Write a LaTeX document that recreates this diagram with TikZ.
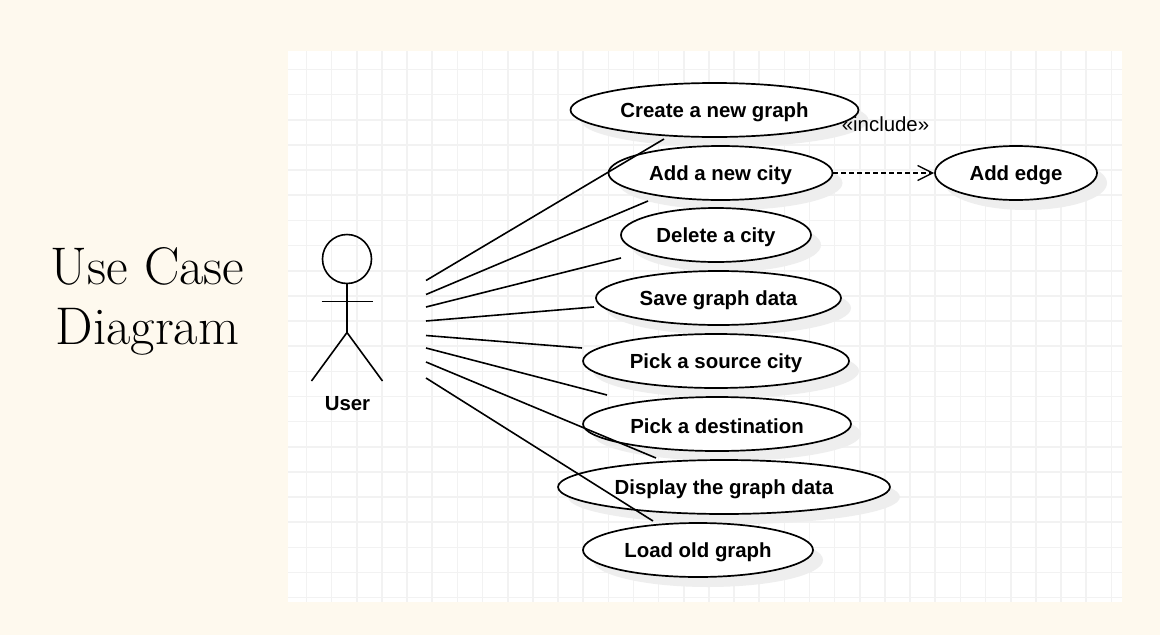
\documentclass[tikz,border=0pt]{standalone}
\usepackage{fontspec}
\setsansfont{Liberation Sans}
\usetikzlibrary{shapes.geometric,arrows.meta}
\definecolor{pagebg}{HTML}{FEF9EE}
\definecolor{gridc}{HTML}{F2F2F2}
\definecolor{shadowc}{HTML}{EEEEEE}
\tikzset{
  x=1pt,y=-1pt,
  usecase/.style={ellipse,draw=black,line width=1.7pt,fill=white,inner sep=0pt},
  caselabel/.style={font=\sffamily\bfseries\fontsize{20.4}{24}\selectfont,text=black,inner sep=0pt},
  caseshadow/.style={ellipse,fill=shadowc,inner sep=0pt,draw=none},
  assoc/.style={draw=black,line width=1.6pt},
  limb/.style={draw=black,line width=1.6pt},
  inc/.style={draw=black,line width=1.4pt,dash pattern=on 4.5pt off 3.5pt,
    -{Straight Barb[length=15pt,width=15pt,line width=1.4pt]}},
}
\newcommand{\ucase}[6]{% name, x, y, rx, ry, text
  \node[caseshadow,minimum width=#4*2pt,minimum height=#5*2pt] at (#2+10,#3+10) {};
  \node[usecase,minimum width=#4*2pt,minimum height=#5*2pt] (#1) at (#2,#3) {};
  \node[caselabel] (#1t) at (#2,#3+1.8) {#6};
}
\begin{document}
\begin{tikzpicture}
\useasboundingbox (0,0) rectangle (1160,635);
\fill[pagebg] (0,0) rectangle (1160,635);
\fill[white] (288,51) rectangle (1122,602);
\foreach \k in {0,...,32} {\draw[gridc,line width=1.6pt] ({306.5+25.15*\k},51) -- ({306.5+25.15*\k},602);}
\foreach \k in {0,...,21} {\draw[gridc,line width=1.6pt] (288,{69.5+25.15*\k}) -- (1122,{69.5+25.15*\k});}
% title
\node[font=\fontsize{53}{60}\selectfont,align=center,text=black] (title) at (147.5,301.5) {Use Case\\Diagram};
% use cases
\ucase{c1}{714.5}{110}{144}{27}{Create a new graph}
\ucase{c2}{720.5}{173}{112}{27}{Add a new city}
\ucase{c3}{716}{235}{95}{27}{Delete a city}
\ucase{c4}{718.5}{298}{122.5}{27}{Save graph data}
\ucase{c5}{716}{361}{133}{27}{Pick a source city}
\ucase{c6}{717}{424}{134}{27}{Pick a destination}
\ucase{c7}{724}{487}{166}{27}{Display the graph data}
\ucase{c8}{698}{550}{115}{27}{Load old graph}
\ucase{edge}{1016}{173}{81}{27}{Add edge}
% actor
\node[circle,draw=black,line width=1.6pt,minimum size=49pt,inner sep=0pt] (head) at (347,259) {};
\coordinate (hip) at (347,332.5);
\coordinate (armL) at (321.5,301.5);
\coordinate (armR) at (372.5,301.5);
\coordinate (legL) at (311.5,381);
\coordinate (legR) at (382.5,381);
\draw[limb] (head.south) -- (hip);
\draw[limb] (armL) -- (armR);
\draw[limb] (legL) -- (hip) -- (legR);
\node[caselabel] (user) at (347.5,404) {User};
% associations
\foreach \n/\sy/\ex/\ey in {1/280.5/664/139,2/294.5/648/201,3/307/621/258,4/321/594/307,5/335.5/582/348,6/348/607/395,7/362/656/458,8/378/653/521}{
  \coordinate (s\n) at (426,\sy);
  \coordinate (e\n) at (\ex,\ey);
  \draw[assoc] (s\n) -- (e\n);
}
% include
\draw[inc] (c2.east) -- (edge.west);
\node[font=\sffamily\fontsize{20.4}{24}\selectfont,inner sep=0pt] (incl) at (885.5,124.5) {«include»};
\end{tikzpicture}
\end{document}
